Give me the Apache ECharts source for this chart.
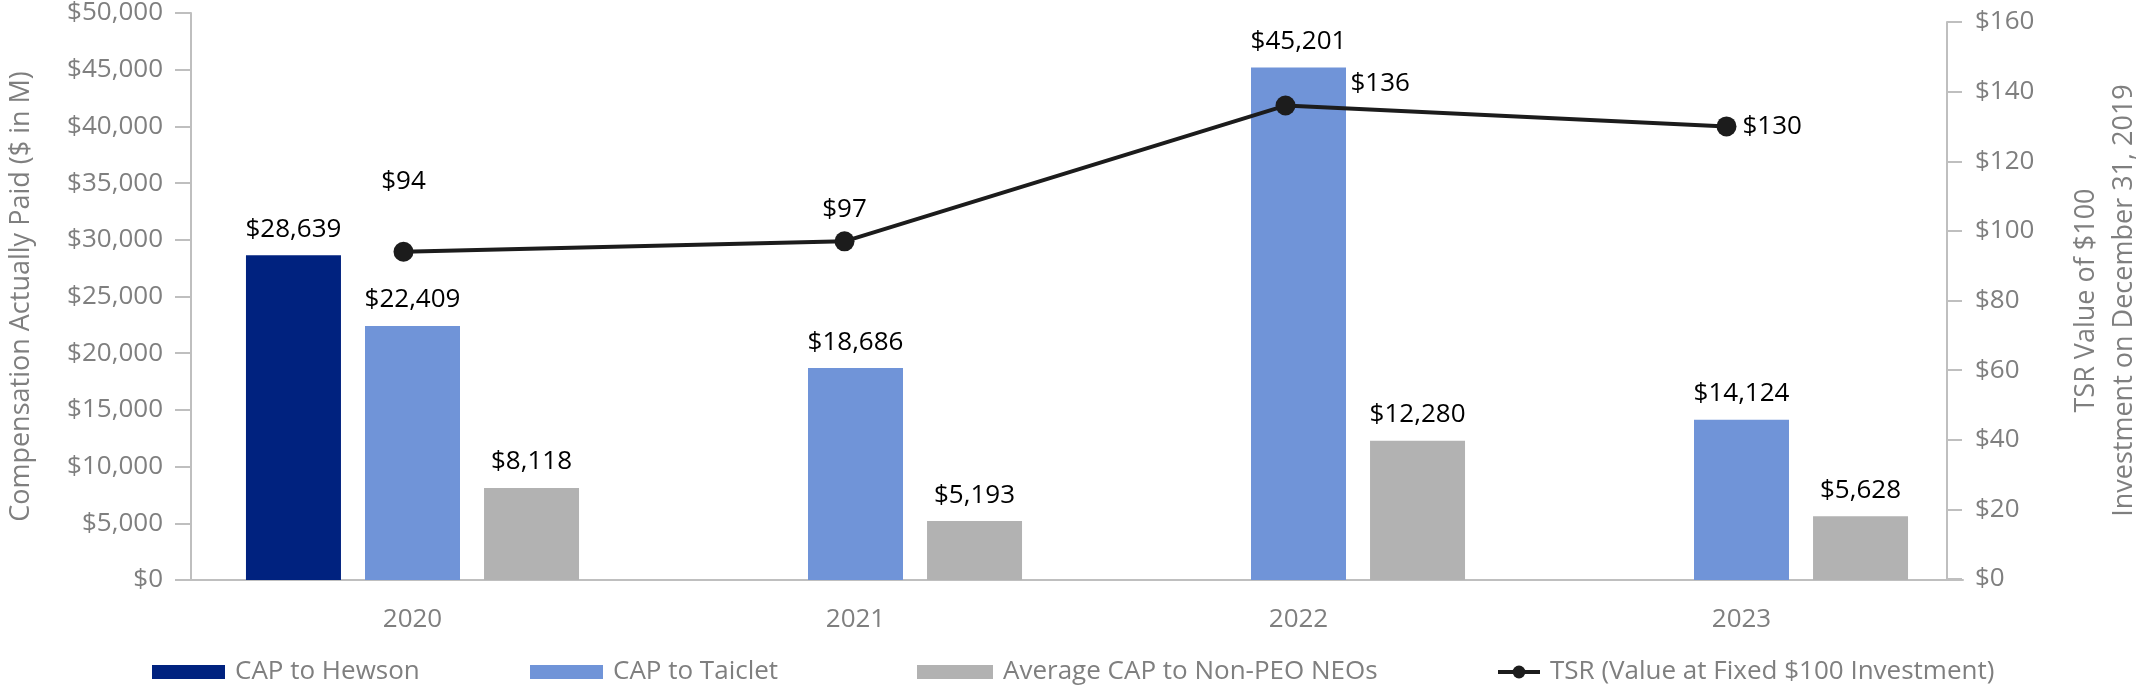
<!DOCTYPE html>
<html>
<head>
<meta charset="utf-8">
<script src="https://cdn.jsdelivr.net/npm/echarts@6/dist/echarts.min.js"></script>
<style>
html,body{margin:0;padding:0;background:#fff;}
#chart{width:2151px;height:691px;}
</style>
</head>
<body>
<div id="chart"></div>
<script>
const years = ['2020', '2021', '2022', '2023'];
const capHewson = [28639, 0, 0, 0];
const capTaiclet = [22409, 18686, 45201, 14124];
const avgNonPeo = [8118, 5193, 12280, 5628];
const tsr = [94, 97, 136, 130];
const seriesNames = ['CAP to Hewson', 'CAP to Taiclet', 'Average CAP to Non-PEO NEOs', 'TSR (Value at Fixed $100 Investment)'];

const FONT = 'Open Sans';
const FS = 26;
const GRAY = '#7f7f7f';
const AXIS = '#bfbfbf';
const fmt = v => '$' + Number(v).toLocaleString('en-US');

// label placement for the TSR points (style, not data)
const tsrLabelLayout = [
  {position: 'top', distance: 47, offset: [0, 0]},
  {position: 'top', distance: 9, offset: [0, 0]},
  {position: 'right', distance: 55, offset: [0, -22]},
  {position: 'right', distance: 6, offset: [0, 0]}
];

const chart = echarts.init(document.getElementById('chart'));
const barLabel = {
  show: true, position: 'top', distance: 13,
  color: '#000', fontFamily: FONT, fontSize: FS,
  formatter: p => p.value ? fmt(p.value) : ''
};

function legendAt(name, left, icon, w) {
  return {
    data: [{name: name, icon: icon}],
    left: left, top: 654,
    itemWidth: w, itemHeight: 14,
    textStyle: {color: GRAY, fontFamily: FONT, fontSize: FS, padding: [0, 0, 0, 5]},
    selectedMode: false
  };
}

chart.setOption({
  animation: false,
  backgroundColor: '#fff',
  textStyle: {fontFamily: FONT},
  legend: [
    legendAt(seriesNames[0], 147, 'rect', 73),
    legendAt(seriesNames[1], 525, 'rect', 73),
    legendAt(seriesNames[2], 912, 'rect', 76),
    {
      data: [{name: seriesNames[3]}],
      left: 1491, top: 654, itemWidth: 42, itemHeight: 16,
      lineStyle: {width: 4, color: '#1c1c1c'},
      textStyle: {color: GRAY, fontFamily: FONT, fontSize: FS, padding: [0, 0, 0, 5]},
      selectedMode: false
    }
  ],
  grid: [
    {left: 183, right: 188, top: 13, bottom: 111},
    {left: 183, right: 188, top: 22, bottom: 112}
  ],
  xAxis: [
    {
      type: 'category', data: years, gridIndex: 0,
      axisLine: {lineStyle: {color: AXIS, width: 2}},
      axisTick: {show: false},
      axisLabel: {color: GRAY, fontFamily: FONT, fontSize: FS, margin: 27}
    },
    {
      type: 'category', data: years, gridIndex: 1, show: false
    }
  ],
  yAxis: [
    {
      type: 'value', gridIndex: 0, position: 'left',
      min: 0, max: 50000, interval: 5000,
      name: 'Compensation Actually Paid ($ in M)',
      nameLocation: 'middle', nameGap: 156, nameRotate: 90,
      nameTextStyle: {color: GRAY, fontFamily: FONT, fontSize: 27},
      axisLine: {show: true, lineStyle: {color: AXIS, width: 2}},
      axisTick: {show: true, inside: false, length: 16, lineStyle: {color: AXIS, width: 2}},
      splitLine: {show: false},
      axisLabel: {color: GRAY, fontFamily: FONT, fontSize: FS, margin: 28, formatter: fmt}
    },
    {
      type: 'value', gridIndex: 1, position: 'right',
      min: 0, max: 160, interval: 20,
      name: 'TSR Value of $100\nInvestment on December 31, 2019',
      nameLocation: 'middle', nameGap: 120, nameRotate: 90,
      nameTextStyle: {color: GRAY, fontFamily: FONT, fontSize: 27, lineHeight: 38},
      axisLine: {show: true, lineStyle: {color: AXIS, width: 2}},
      axisTick: {show: true, inside: false, length: 15, lineStyle: {color: AXIS, width: 2}},
      splitLine: {show: false},
      axisLabel: {color: GRAY, fontFamily: FONT, fontSize: FS, margin: 28, formatter: fmt}
    }
  ],
  series: [
    {
      name: seriesNames[0], type: 'bar', xAxisIndex: 0, yAxisIndex: 0,
      data: capHewson, barWidth: 95, barGap: '25.3%',
      itemStyle: {color: '#00227f'}, label: barLabel
    },
    {
      name: seriesNames[1], type: 'bar', xAxisIndex: 0, yAxisIndex: 0,
      data: capTaiclet, barWidth: 95, barGap: '25.3%',
      itemStyle: {color: '#7094d8'}, label: barLabel
    },
    {
      name: seriesNames[2], type: 'bar', xAxisIndex: 0, yAxisIndex: 0,
      data: avgNonPeo, barWidth: 95, barGap: '25.3%',
      itemStyle: {color: '#b2b2b2'}, label: barLabel
    },
    {
      name: seriesNames[3], type: 'line', xAxisIndex: 1, yAxisIndex: 1,
      data: tsr.map((v, i) => ({value: v, label: tsrLabelLayout[i]})),
      symbol: 'circle', symbolSize: 20, z: 10,
      lineStyle: {color: '#1c1c1c', width: 4},
      itemStyle: {color: '#1c1c1c'},
      label: {show: true, color: '#000', fontFamily: FONT, fontSize: FS, formatter: p => fmt(p.value)}
    }
  ]
});
</script>
</body>
</html>
